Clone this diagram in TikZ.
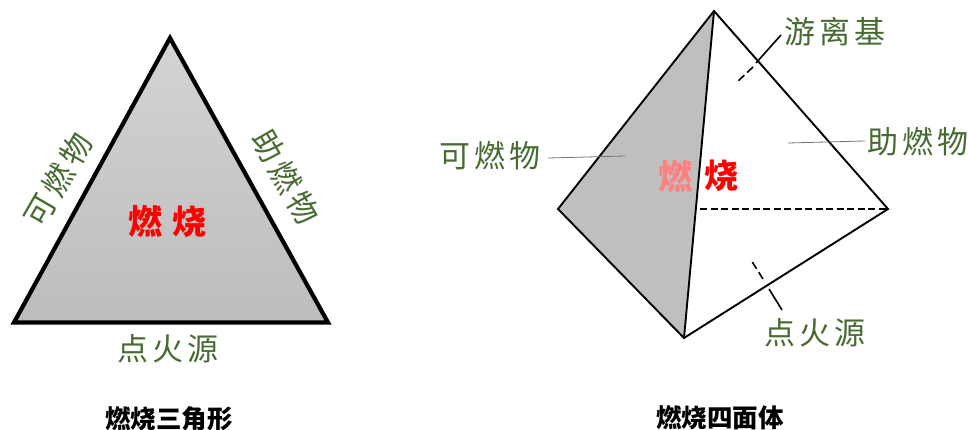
\documentclass[tikz,border=0pt]{standalone}
\usepackage{fontspec}
\newfontfamily\cjk[LetterSpace=14]{Noto Sans CJK SC}
\newfontfamily\cjkplain{Noto Sans CJK SC}
\definecolor{labelgreen}{HTML}{476B32}
\tikzset{
  edge/.style={draw=black,line width=1.9pt,line join=miter},
  leader/.style={draw=black!55,line width=0.8pt},
  pointer/.style={draw=black,line width=1.6pt},
  fuel/.style={inner sep=0pt,text=labelgreen,font=\cjk\fontsize{31}{31}\selectfont},
  burn/.style={inner sep=0pt,font=\cjkplain\bfseries\fontsize{34}{34}\selectfont},
  caption/.style={inner sep=0pt,font=\cjkplain\bfseries\fontsize{25.5}{25.5}\selectfont}
}
\begin{document}
\begin{tikzpicture}[x=1pt,y=-1pt]
  \useasboundingbox (0,0) rectangle (968,430);
  % triangle
  \coordinate (apex) at (170,38);
  \coordinate (tl) at (14,322.5);
  \coordinate (tr) at (328,322.5);
  \draw[line width=4.2pt,miter limit=10,top color=black!17,bottom color=black!26]
    (apex) -- (tl) -- (tr) -- cycle;
  \node[burn,text=red] (tburn) at (167.5,221) {燃\hspace{10pt}烧};
  \node[fuel,rotate=60] (tfuel) at (58,180) {可燃物};
  \node[fuel,rotate=-60] (tair) at (286,177) {助燃物};
  \node[fuel] (tfire) at (168,349) {点火源};
  \node[caption] (tcap) at (169,419) {燃烧三角形};
  % tetrahedron
  \coordinate (top) at (714,11);
  \coordinate (left) at (558,209);
  \coordinate (bot) at (684,338);
  \coordinate (right) at (888,209);
  \coordinate (back) at (700,209);
  \fill[black!25] (top) -- (left) -- (bot) -- cycle;
  \draw[edge] (top) -- (left) -- (bot) -- (right) -- cycle;
  \draw[edge] (top) -- (bot);
  \draw[edge,dash pattern=on 7pt off 3.5pt] (back) -- (right);
  \node[burn,text=red!50] (fburn) at (675,176) {燃};
  \node[burn,text=red] (fburn2) at (721,176) {烧};
  \node[fuel] (lfuel) at (490,156) {可燃物};
  \node[fuel] (lair) at (918,142) {助燃物};
  \node[fuel] (lrad) at (835,32) {游离基};
  \node[fuel] (lfire) at (815,333) {点火源};
  \node[caption] (fcap) at (720,418) {燃烧四面体};
  % leaders
  \coordinate (fuelend) at (625,156);
  \coordinate (fuelstart) at (548,158);
  \coordinate (airend) at (788,143);
  \coordinate (airstart) at (865,141);
  \draw[leader] (fuelstart) -- (fuelend);
  \draw[leader] (airstart) -- (airend);
  \coordinate (rada) at (781,35);
  \coordinate (radb) at (756,63);
  \coordinate (radc) at (753,67);
  \coordinate (radd) at (736,83);
  \draw[pointer] (rada) -- (radb);
  \draw[pointer,dash pattern=on 8pt off 4pt] (radc) -- (radd);
  \coordinate (firea) at (782,310);
  \coordinate (fireb) at (769,289);
  \coordinate (firec) at (763,279);
  \coordinate (fired) at (751,260);
  \draw[pointer] (firea) -- (fireb);
  \draw[pointer,dash pattern=on 8pt off 4pt] (firec) -- (fired);
\end{tikzpicture}
\end{document}
